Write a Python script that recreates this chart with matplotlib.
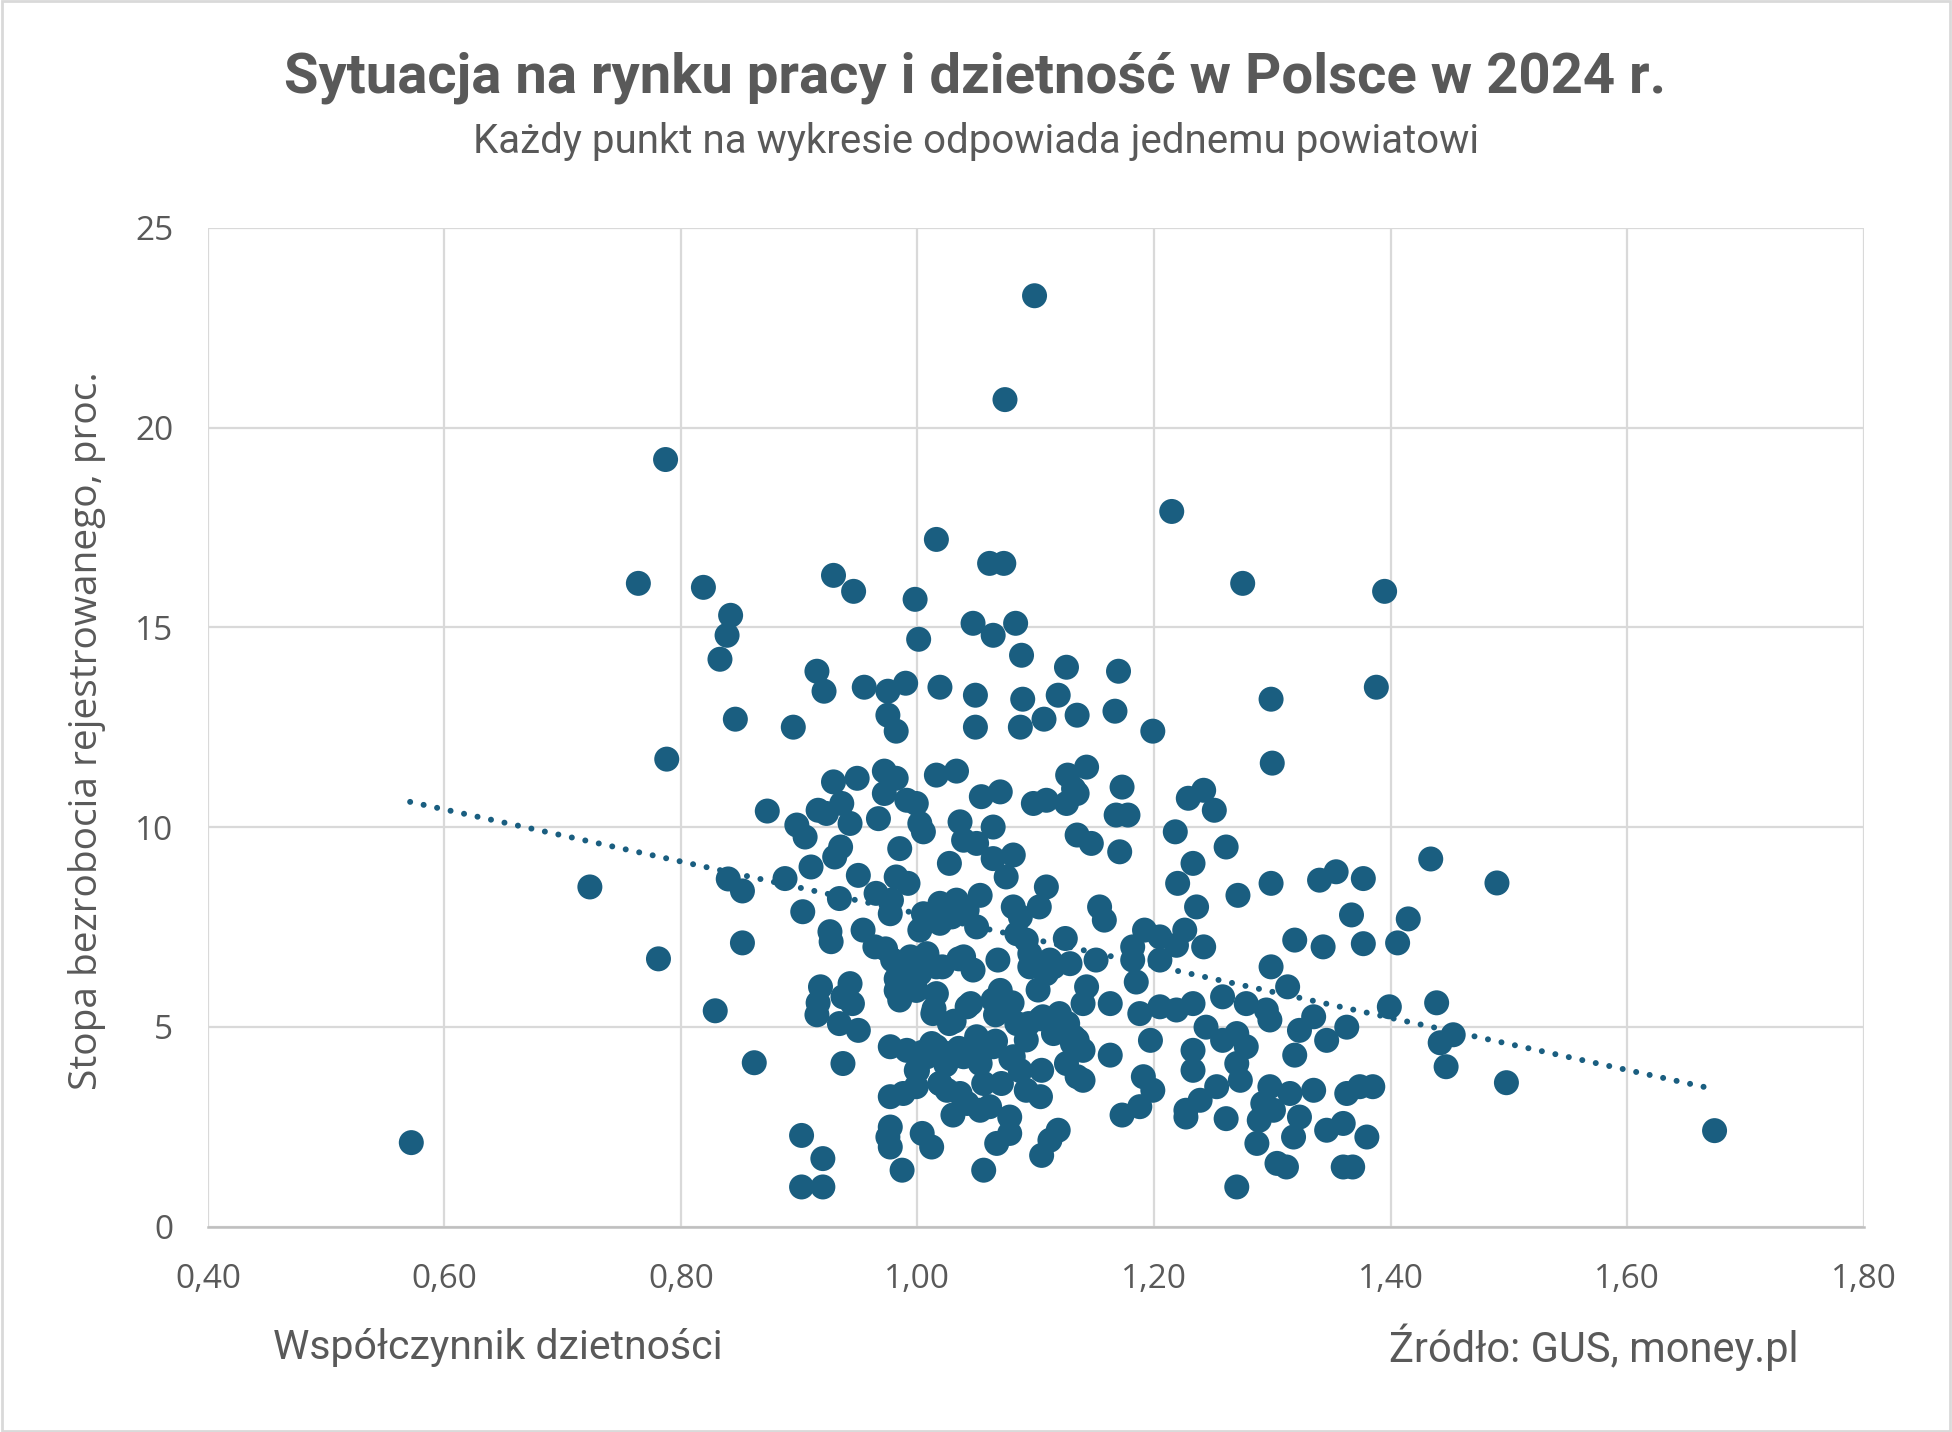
import numpy as np
import matplotlib
matplotlib.use("Agg")
from matplotlib import pyplot as plt
from matplotlib.patches import Rectangle
from matplotlib.ticker import FuncFormatter

# fertility rate (x) and registered unemployment rate, % (y), one point per powiat
fert = [
    0.572, 0.723, 0.764, 0.787, 0.788, 0.781, 0.819, 0.842, 0.839, 0.833, 0.846, 0.829, 0.840, 0.852, 0.852, 0.862,
    1.099, 1.074, 1.215, 1.016, 1.061, 1.073, 1.275, 1.395, 0.929, 0.946, 0.998, 1.001, 1.047, 1.064, 1.083, 1.088,
    1.126, 1.170, 0.915, 0.921, 0.955, 0.975, 0.990, 1.019, 1.049, 1.089, 1.119, 1.299, 1.388, 0.975, 0.982, 1.049,
    1.087, 1.107, 1.135, 1.167, 1.199, 0.895, 1.300, 1.016, 1.033, 0.972, 1.127, 1.143, 1.173,
    0.873, 0.929, 0.949, 0.982, 0.972, 0.991, 0.999, 1.002, 1.005, 0.916, 0.923, 0.898, 0.905, 0.936, 0.943, 0.935,
    0.930, 0.967, 0.985, 0.910, 0.888, 0.950, 0.982, 0.992, 0.965, 0.978, 0.977, 0.934, 0.903, 0.926, 0.927, 0.954,
    0.964, 1.054, 1.070, 1.036, 1.039, 1.050, 1.027, 1.064, 1.064, 1.081, 1.075, 1.098, 1.109, 1.126, 1.135, 1.135,
    1.109, 1.103, 1.053, 1.005, 1.019, 1.033, 1.042, 1.002, 1.019, 1.029, 1.050, 1.081, 1.087, 1.084, 1.092, 1.095,
    1.095, 1.125, 1.112, 1.109, 1.102, 1.068, 1.039, 1.047, 0.979, 0.994, 1.008, 0.985, 1.002, 1.016, 0.982, 0.999,
    1.016, 1.070, 1.115, 0.973, 0.982, 1.021, 1.035,
    1.132, 1.168, 1.178, 1.147, 1.171, 1.229, 1.242, 1.251, 1.218, 1.261, 1.233, 1.220, 1.271, 1.299, 1.236, 1.340,
    1.354, 1.377, 1.367, 1.377, 1.319, 1.343, 1.299, 1.313, 1.154, 1.158, 1.192, 1.205, 1.182, 1.226, 1.242, 1.182,
    1.205, 1.219, 1.129, 1.151, 1.143, 1.185,
    0.918, 0.943, 0.916, 0.937, 0.945, 0.915, 0.934, 0.950, 0.937, 0.902, 0.920, 0.902, 0.920, 0.985, 0.977, 0.991,
    0.999, 1.008, 1.016, 0.977, 0.988, 0.999, 1.019, 1.025, 1.036, 1.042, 0.977, 0.975, 0.977, 0.987, 1.004, 1.012,
    1.030, 1.053, 1.061, 1.078, 1.078, 1.067, 1.056, 1.105, 1.092, 1.104, 1.119, 1.112, 1.105, 1.071, 1.013, 1.027,
    1.042, 1.050, 1.064, 1.075, 1.084, 1.025, 1.039, 1.053, 1.064, 1.081, 1.092, 1.106, 1.120, 1.135, 1.135,
    1.012, 1.024, 1.035, 1.052, 1.066, 1.079, 1.056, 1.087, 1.019, 1.000, 1.004, 1.014, 1.031, 1.045, 1.066, 1.080,
    1.094, 1.104, 1.115, 1.127, 1.131,
    1.140, 1.163, 1.120, 1.132, 1.140, 1.126, 1.140, 1.163, 1.191, 1.199, 1.188, 1.173, 1.188, 1.205, 1.219, 1.233,
    1.244, 1.197, 1.258, 1.278, 1.295, 1.298, 1.233, 1.233, 1.258, 1.270, 1.278, 1.270, 1.273, 1.253, 1.239, 1.227,
    1.227, 1.261, 1.270, 1.298, 1.315, 1.335, 1.292, 1.289, 1.301, 1.323, 1.287, 1.318, 1.304, 1.312, 1.346, 1.360,
    1.363, 1.374, 1.385, 1.380, 1.360, 1.368, 1.323, 1.335, 1.346, 1.363, 1.319,
    1.434, 1.490, 1.415, 1.406, 1.399, 1.439, 1.442, 1.453, 1.447, 1.498, 1.674,
]
unemp = [
    2.1, 8.5, 16.1, 19.2, 11.7, 6.7, 16.0, 15.3, 14.8, 14.2, 12.7, 5.4, 8.7, 8.4, 7.1, 4.1,
    23.3, 20.7, 17.9, 17.2, 16.6, 16.6, 16.1, 15.9, 16.3, 15.9, 15.7, 14.7, 15.1, 14.8, 15.1, 14.3,
    14.0, 13.9, 13.9, 13.4, 13.5, 13.4, 13.6, 13.5, 13.3, 13.2, 13.3, 13.2, 13.5, 12.8, 12.4, 12.5,
    12.5, 12.7, 12.8, 12.9, 12.4, 12.5, 11.6, 11.3, 11.4, 11.4, 11.3, 11.5, 11.0,
    10.4, 11.13, 11.22, 11.22, 10.84, 10.67, 10.59, 10.09, 9.88, 10.42, 10.34, 10.05, 9.75, 10.59, 10.09, 9.5,
    9.25, 10.21, 9.46, 9.0, 8.71, 8.79, 8.75, 8.59, 8.34, 8.17, 7.83, 8.21, 7.88, 7.38, 7.13, 7.42,
    7.0, 10.76, 10.88, 10.13, 9.67, 9.59, 9.09, 10.0, 9.21, 9.30, 8.75, 10.59, 10.67, 10.59, 10.84, 9.8,
    8.5, 8.0, 8.29, 7.83, 8.09, 8.17, 7.92, 7.42, 7.59, 7.75, 7.5, 8.0, 7.75, 7.33, 7.17, 6.83,
    6.5, 7.21, 6.67, 6.33, 5.92, 6.67, 6.75, 6.42, 6.67, 6.75, 6.83, 6.25, 6.33, 6.5, 5.91, 5.91,
    5.83, 5.91, 6.5, 6.95, 6.2, 6.5, 6.7,
    10.96, 10.30, 10.30, 9.59, 9.38, 10.72, 10.92, 10.42, 9.88, 9.5, 9.09, 8.59, 8.29, 8.59, 8.0, 8.67,
    8.88, 8.71, 7.8, 7.08, 7.17, 7.0, 6.5, 6.0, 8.0, 7.67, 7.42, 7.25, 7.0, 7.42, 7.0, 6.67,
    6.67, 7.04, 6.58, 6.67, 6.0, 6.12,
    6.0, 6.08, 5.6, 5.75, 5.58, 5.3, 5.08, 4.91, 4.08, 2.28, 1.7, 0.99, 0.99, 5.67, 4.5, 4.41,
    3.91, 4.25, 4.5, 3.25, 3.33, 3.5, 3.58, 3.41, 3.33, 3.08, 2.49, 2.24, 1.99, 1.41, 2.33, 1.99,
    2.79, 2.91, 3.0, 2.74, 2.33, 2.08, 1.41, 3.91, 3.41, 3.25, 2.41, 2.16, 1.78, 3.58, 5.33, 5.08,
    5.5, 4.75, 5.67, 5.42, 5.08, 4.33, 4.25, 4.08, 4.5, 4.25, 4.67, 5.25, 5.33, 4.67, 3.75,
    4.58, 4.05, 4.46, 4.27, 4.64, 4.2, 3.58, 3.9, 3.58, 3.9, 4.36, 5.45, 5.14, 5.58, 5.3, 5.6,
    5.08, 5.2, 4.83, 5.08, 4.58,
    5.58, 5.58, 5.08, 4.75, 4.41, 4.08, 3.66, 4.29, 3.75, 3.41, 3.0, 2.79, 5.33, 5.5, 5.42, 5.58,
    4.99, 4.66, 5.75, 5.58, 5.42, 5.17, 4.41, 3.91, 4.66, 4.83, 4.5, 4.08, 3.66, 3.5, 3.16, 2.91,
    2.74, 2.7, 0.99, 3.5, 3.33, 3.41, 3.08, 2.66, 2.91, 2.74, 2.08, 2.24, 1.58, 1.49, 2.41, 2.58,
    3.33, 3.5, 3.5, 2.24, 1.49, 1.49, 4.91, 5.25, 4.66, 4.99, 4.29,
    9.2, 8.6, 7.7, 7.1, 5.5, 5.6, 4.6, 4.8, 4.0, 3.6, 2.4,
]

# linear trendline as drawn in the source chart (end points)
trend_x = [0.571, 1.675]
trend_y = [10.63, 3.43]

title = "Sytuacja na rynku pracy i dzietność w Polsce w 2024 r."
subtitle = "Każdy punkt na wykresie odpowiada jednemu powiatowi"
xlabel = "Współczynnik dzietności"
ylabel = "Stopa bezrobocia rejestrowanego, proc."
source = "Źródło: GUS, money.pl"

dot = '#1a5e80'
grey = '#595959'
narrow = ['Roboto', 'DejaVu Sans']
normal = ['Open Sans', 'DejaVu Sans']

fig = plt.figure(figsize=(19.52, 14.32), dpi=100)
ax = fig.add_axes([0.1065, 0.1435, 0.8482, 0.6974])

ax.scatter(fert, unemp, s=324, color=dot, edgecolors='none', zorder=3)
ax.plot(trend_x, trend_y, color=dot, lw=4.3, linestyle=(0, (0.01, 2.3)),
        dash_capstyle='round', zorder=4)

ax.set_xlim(0.4, 1.8)
ax.set_ylim(0, 25)
ax.set_xticks(np.arange(0.4, 1.81, 0.2))
ax.set_yticks(range(0, 26, 5))
ax.xaxis.set_major_formatter(FuncFormatter(lambda v, p: f"{v:.2f}".replace('.', ',')))
ax.grid(True, color='#d9d9d9', lw=1.6, zorder=0)
ax.set_axisbelow(True)
for s in ['top', 'right', 'left']:
    ax.spines[s].set_visible(False)
ax.spines['bottom'].set_color('#bfbfbf')
ax.spines['bottom'].set_linewidth(1.8)
ax.tick_params(length=0, labelsize=24, labelcolor=grey)
ax.tick_params(axis='x', pad=26)
ax.tick_params(axis='y', pad=25)
for lab in ax.get_xticklabels() + ax.get_yticklabels():
    lab.set_family(normal)

fig.text(0.4997, 0.946, title, ha='center', va='center', fontsize=40.5,
         fontweight='bold', color=grey, family=narrow)
fig.text(0.5, 0.901, subtitle, ha='center', va='center', fontsize=29,
         color=grey, family=narrow)
fig.text(0.140, 0.059, xlabel, ha='left', va='center', fontsize=29.5,
         color=grey, family=narrow)
fig.text(0.9216, 0.059, source, ha='right', va='center', fontsize=30,
         color=grey, family=narrow)
fig.text(0.0446, 0.490, ylabel, ha='center', va='center', rotation=90,
         fontsize=28, color=grey, family=normal)

fig.patches.append(Rectangle((0.001, 0.001), 0.998, 0.998, transform=fig.transFigure,
                             fill=False, edgecolor='#d9d9d9', lw=2))

fig.savefig('out.png', dpi=100)
